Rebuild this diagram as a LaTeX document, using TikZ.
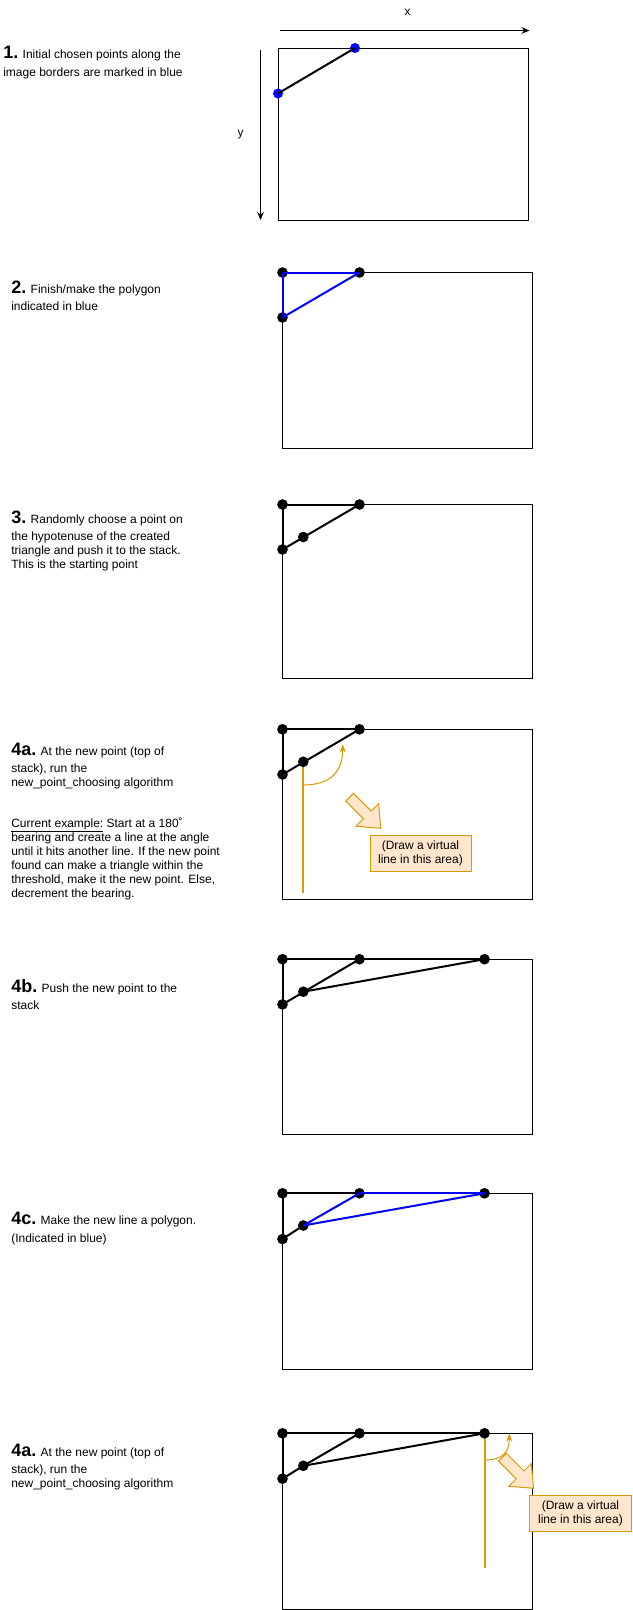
\documentclass[tikz,border=0pt]{standalone}
\usepackage{fontspec}
\setmainfont{Liberation Sans}
\usetikzlibrary{arrows.meta}
\definecolor{orng}{HTML}{D79B00}
\definecolor{orngfill}{HTML}{FFE6CC}
\definecolor{pblue}{HTML}{0000FF}
\newcommand{\stepnum}[1]{{\fontsize{13.5}{16}\selectfont\bfseries #1}}
\begin{document}
\begin{tikzpicture}[x=0.75pt,y=-0.75pt,
  frame/.style={draw=black,line width=0.75pt},
  dot/.style={circle,fill=black,inner sep=0pt,minimum size=8pt},
  bdot/.style={circle,fill=pblue,inner sep=0pt,minimum size=7.5pt},
  edge/.style={draw=black,line width=1.5pt},
  bedge/.style={draw=pblue,line width=1.5pt},
  axis/.style={draw=black,line width=0.75pt,-{Stealth[length=6pt,width=5pt]}},
  txt/.style={anchor=base west,inner sep=0pt,font=\fontsize{9}{10.8}\selectfont},
  lbl/.style={inner sep=0pt,font=\fontsize{9}{10.8}\selectfont},
  vline/.style={draw=orng,line width=1.5pt},
  bendarr/.style={draw=orng,line width=0.75pt,-{Stealth[length=6pt,width=4.5pt]}},
  blockarr/.style={draw=orng,fill=orngfill,line width=0.75pt},
  note/.style={draw=orng,fill=orngfill,line width=0.75pt,align=center,inner sep=0pt,
    font=\fontsize{9}{10.5}\selectfont,minimum height=27pt}
]
\useasboundingbox (0,0) rectangle (632,1610);

% ---------- Panel 1 ----------
\coordinate (xs) at (280,30.5);
\coordinate (xe) at (529.5,30.5);
\draw[axis] (xs) -- (xe);
\node[lbl] (xl) at (407.5,12) {x};
\coordinate (ys) at (260.5,50);
\coordinate (ye) at (260.5,220);
\draw[axis] (ys) -- (ye);
\node[lbl] (yl) at (240.5,135) {y};
\draw[frame] (278,48) rectangle (528,220);
\node[bdot] (p1b) at (355,48) {};
\node[bdot] (p1c) at (278,93.5) {};
\draw[edge] (p1c.center) -- (p1b.center);
\node[txt] (t1a) at (3,58) {\stepnum{1.} Initial chosen points along the};
\node[txt] (t1b) at (3,76.5) {image borders are marked in blue};

% ---------- Panel 2 ----------
\draw[frame] (282.5,272.5) rectangle (532.5,448);
\node[dot] (p2a) at (282.5,272.5) {};
\node[dot] (p2b) at (359.5,272.5) {};
\node[dot] (p2c) at (282.5,317.5) {};
\draw[bedge] (p2a.center) -- (p2b.center);
\draw[bedge] (p2a.center) -- (p2c.center);
\draw[bedge] (p2c.center) -- (p2b.center);
\node[txt] (t2a) at (11,293) {\stepnum{2.} Finish/make the polygon};
\node[txt] (t2b) at (11,310) {indicated in blue};

% ---------- Panel 3 ----------
\draw[frame] (282.5,504.5) rectangle (532.5,678);
\node[dot] (p3a) at (282.5,504.5) {};
\node[dot] (p3b) at (359.5,504.5) {};
\node[dot] (p3c) at (282.5,549.5) {};
\node[dot] (p3m) at (303.3,537) {};
\draw[edge] (p3a.center) -- (p3b.center);
\draw[edge] (p3a.center) -- (p3c.center);
\draw[edge] (p3c.center) -- (p3b.center);
\node[txt] (t3a) at (11,523) {\stepnum{3.} Randomly choose a point on};
\node[txt] (t3b) at (11,540) {the hypotenuse of the created};
\node[txt] (t3c) at (11,554) {triangle and push it to the stack.};
\node[txt] (t3d) at (11,568) {This is the starting point};

% ---------- Panel 4a ----------
\draw[frame] (282.5,729.3) rectangle (532.5,899.3);
\coordinate (v1e) at (303.3,893.3);
\coordinate (c1s) at (303.3,785);
\coordinate (c1e) at (342.7,744.3);
\draw[vline] (303.3,761.8) -- (v1e);
\draw[bendarr] (c1s) .. controls (330,785) and (342.7,772) .. (c1e);
\draw[blockarr,shift={(349.6,797.2)}] (3.9,-3.9) -- (21.6,13.8) -- (29,6.4) -- (31.1,31.1) -- (6.4,29) -- (13.8,21.6) -- (-3.9,3.9) -- cycle;
\node[note,minimum width=75.75pt] (n1) at (420.5,853) {(Draw a virtual\\line in this area)};
\node[dot] (p4a) at (282.5,729.3) {};
\node[dot] (p4b) at (359.5,729.3) {};
\node[dot] (p4c) at (282.5,774.5) {};
\node[dot] (p4m) at (303.3,761.8) {};
\draw[edge] (p4a.center) -- (p4b.center);
\draw[edge] (p4a.center) -- (p4c.center);
\draw[edge] (p4c.center) -- (p4b.center);
\node[txt] (t4a) at (11,755) {\stepnum{4a.} At the new point (top of};
\node[txt] (t4b) at (11,772) {stack), run the};
\node[txt] (t4c) at (11,786) {new\_point\_choosing algorithm};
\node[txt] (t4d) at (11,827) {\underline{Current example:} Start at a 180˚};
\node[txt] (t4e) at (11,841) {bearing and create a line at the angle};
\node[txt] (t4f) at (11,855) {until it hits another line. If the new point};
\node[txt] (t4g) at (11,869) {found can make a triangle within the};
\node[txt] (t4h) at (11,883) {threshold, make it the new point. Else,};
\node[txt] (t4i) at (11,897) {decrement the bearing.};

% ---------- Panel 4b ----------
\draw[frame] (282.5,959.2) rectangle (532.5,1134.8);
\node[dot] (p5a) at (282.5,959.2) {};
\node[dot] (p5b) at (359.5,959.2) {};
\node[dot] (p5f) at (484.5,959.2) {};
\node[dot] (p5c) at (282.5,1004.4) {};
\node[dot] (p5m) at (303.3,991.7) {};
\draw[edge] (p5a.center) -- (p5b.center);
\draw[edge] (p5b.center) -- (p5f.center);
\draw[edge] (p5a.center) -- (p5c.center);
\draw[edge] (p5c.center) -- (p5b.center);
\draw[edge] (p5m.center) -- (p5f.center);
\node[txt] (t5a) at (11,992) {\stepnum{4b.} Push the new point to the};
\node[txt] (t5b) at (11,1009) {stack};

% ---------- Panel 4c ----------
\draw[frame] (282.5,1193.3) rectangle (532.5,1369.3);
\node[dot] (p6a) at (282.5,1193.3) {};
\node[dot] (p6b) at (359.5,1193.3) {};
\node[dot] (p6f) at (484.5,1193.3) {};
\node[dot] (p6c) at (282.5,1239) {};
\node[dot] (p6m) at (303.3,1225.5) {};
\draw[edge] (p6a.center) -- (p6b.center);
\draw[edge] (p6a.center) -- (p6c.center);
\draw[edge] (p6c.center) -- (p6m.center);
\draw[bedge] (p6b.center) -- (p6f.center);
\draw[bedge] (p6m.center) -- (p6f.center);
\draw[bedge] (p6m.center) -- (p6b.center);
\node[txt] (t6a) at (11,1224.5) {\stepnum{4c.} Make the new line a polygon.};
\node[txt] (t6b) at (11,1242) {(Indicated in blue)};

% ---------- Panel 4a (second) ----------
\draw[frame] (282.5,1433.3) rectangle (532.5,1609.2);
\coordinate (v2e) at (484.5,1568.3);
\coordinate (c2s) at (484.5,1460);
\coordinate (c2e) at (509.3,1433.5);
\draw[vline] (484.5,1433.3) -- (v2e);
\draw[bendarr] (c2s) .. controls (503,1460) and (509.3,1452) .. (c2e);
\draw[blockarr,shift={(502.4,1457.2)}] (3.9,-3.9) -- (21.6,13.8) -- (29,6.4) -- (31.1,31.1) -- (6.4,29) -- (13.8,21.6) -- (-3.9,3.9) -- cycle;
\node[note,minimum width=76.5pt] (n2) at (580.5,1513) {(Draw a virtual\\line in this area)};
\node[dot] (p7a) at (282.5,1433.3) {};
\node[dot] (p7b) at (359.5,1433.3) {};
\node[dot] (p7f) at (484.5,1433.3) {};
\node[dot] (p7c) at (282.5,1478.7) {};
\node[dot] (p7m) at (303.3,1465.8) {};
\draw[edge] (p7a.center) -- (p7b.center);
\draw[edge] (p7b.center) -- (p7f.center);
\draw[edge] (p7a.center) -- (p7c.center);
\draw[edge] (p7c.center) -- (p7m.center);
\draw[edge] (p7m.center) -- (p7b.center);
\draw[edge] (p7m.center) -- (p7f.center);
\node[txt] (t7a) at (11,1456) {\stepnum{4a.} At the new point (top of};
\node[txt] (t7b) at (11,1473) {stack), run the};
\node[txt] (t7c) at (11,1487) {new\_point\_choosing algorithm};
\end{tikzpicture}
\end{document}
